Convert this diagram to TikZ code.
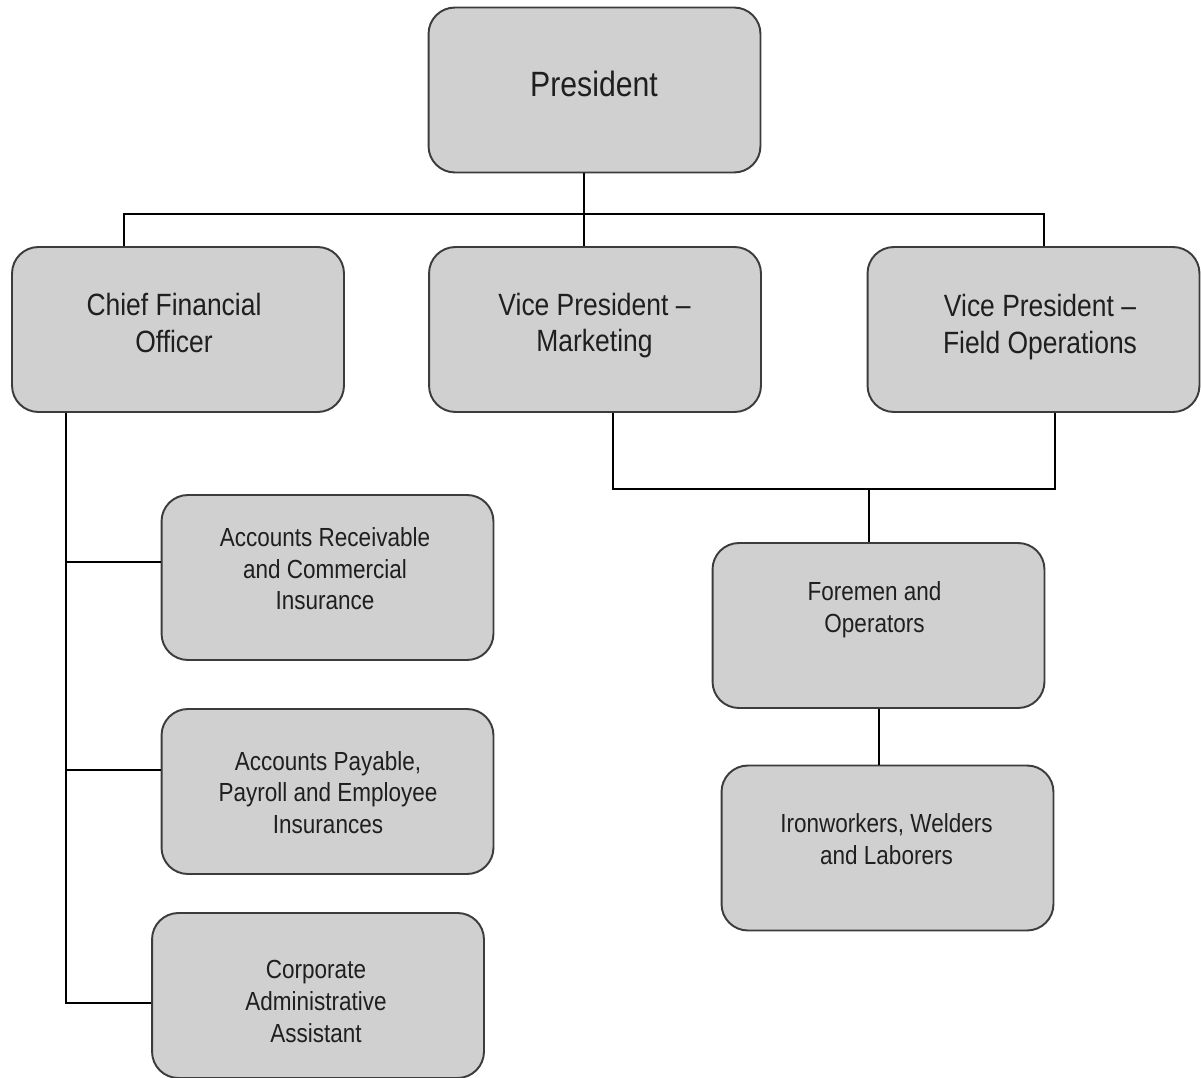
\documentclass[tikz,border=0pt]{standalone}
\usepackage{fontspec}
\setmainfont{Liberation Sans}[FakeStretch=0.86]
\definecolor{boxfill}{HTML}{D0D0D0}
\definecolor{boxline}{HTML}{3C3C3C}
\tikzset{
	box/.style={draw=boxline, fill=boxfill, line width=1.1pt, rounded corners=15pt, minimum width=6.64cm, minimum height=3.3cm},
	bigtext/.style={align=center, text=black!88, font=\fontsize{17.5}{21}\selectfont},
	smalltext/.style={align=center, text=black!88, font=\fontsize{14.9}{18}\selectfont},
	link/.style={draw=black, line width=0.8pt},
}

\begin{document}
\begin{tikzpicture}[x=0.02cm,y=-0.02cm]
			\useasboundingbox (0,0) rectangle (1201,1078);
			% boxes
			\node[box] (pres) at (594.5,90) {};
			\node[box] (cfo) at (178,329.5) {};
			\node[box] (vpm) at (595,329.5) {};
			\node[box] (vpf) at (1033.5,329.5) {};
			\node[box] (ar) at (327.5,577.5) {};
			\node[box] (ap) at (327.5,791.5) {};
			\node[box] (ca) at (318,995.5) {};
			\node[box] (fo) at (878.5,625.5) {};
			\node[box] (iw) at (887.5,848) {};
			% texts
			\node[bigtext, font=\fontsize{20}{24}\selectfont] (pres-t) at (594,83.5) {President};
			\node[bigtext] (cfo-t) at (174,323) {Chief Financial\\Officer};
			\node[bigtext] (vpm-t) at (594.5,325.5) {Vice President --\\Marketing};
			\node[bigtext] (vpf-t) at (1040,327) {Vice President --\\Field Operations};
			\node[smalltext] (ar-t) at (325,569) {Accounts Receivable\\and Commercial\\Insurance};
			\node[smalltext] (ap-t) at (328,792.5) {Accounts Payable,\\Payroll and Employee\\Insurances};
			\node[smalltext] (ca-t) at (316,1001.5) {Corporate\\Administrative\\Assistant};
			\node[smalltext] (fo-t) at (874.5,610) {Foremen and\\Operators};
			\node[smalltext] (iw-t) at (886.5,839) {Ironworkers, Welders\\and Laborers};
			% president to vice presidents and cfo
			\coordinate (top) at (584,214);
			\coordinate (busl) at (124,214);
			\coordinate (busr) at (1044,214);
			\draw[link] (pres.south -| top) -- (top |- vpm.north);
			\draw[link] (busl |- cfo.north) -- (busl) -- (busr) -- (busr |- vpf.north);
			% cfo spine
			\coordinate (arb) at (66,562);
			\coordinate (apb) at (66,770);
			\coordinate (cab) at (66,1003);
			\draw[link] (cab |- cfo.south) -- (cab) -- (cab -| ca.west);
			\draw[link] (arb) -- (arb -| ar.west);
			\draw[link] (apb) -- (apb -| ap.west);
			% field side
			\coordinate (mbl) at (613,489);
			\coordinate (mbr) at (1055,489);
			\coordinate (fob) at (869,489);
			\coordinate (iwb) at (879,737);
			\draw[link] (mbl |- vpm.south) -- (mbl) -- (mbr) -- (mbr |- vpf.south);
			\draw[link] (fob) -- (fob |- fo.north);
			\draw[link] (iwb |- fo.south) -- (iwb |- iw.north);
		\end{tikzpicture}
\end{document}
